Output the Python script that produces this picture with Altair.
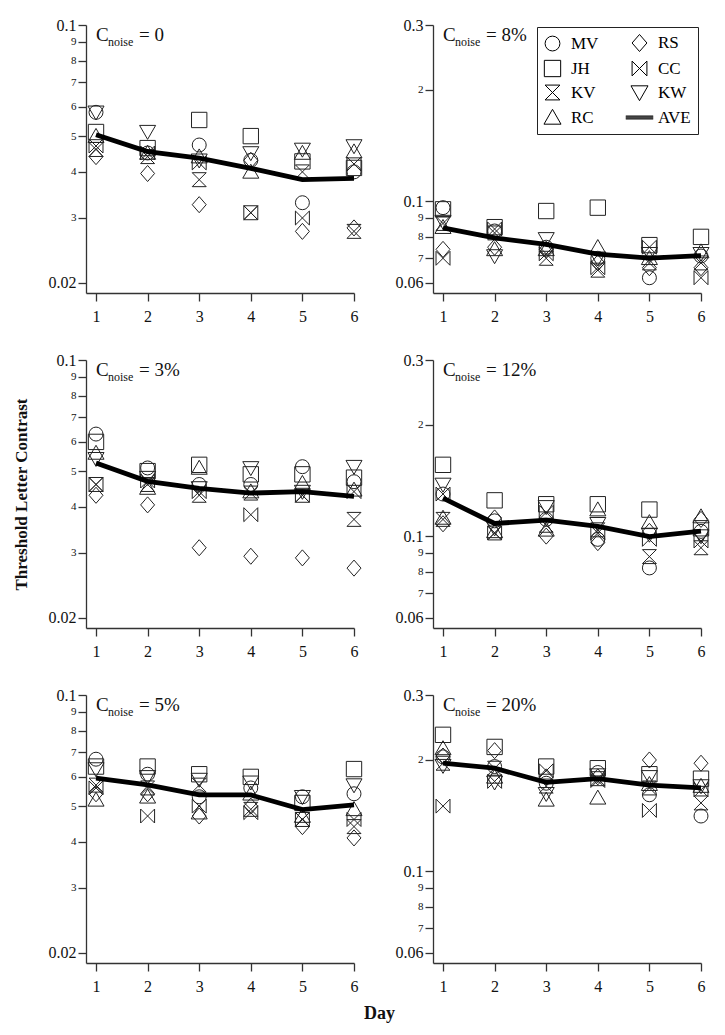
import altair as alt
import pandas as pd

days = [1, 2, 3, 4, 5, 6]
subjects = ["MV", "JH", "KV", "RC", "RS", "CC", "KW"]
legend_order = ["MV", "JH", "KV", "RC", "RS", "CC", "KW", "AVE"]

# ---- data (threshold letter contrast) ----
noise_0 = {
    "MV": [0.058, 0.045, 0.0473, 0.043, 0.033, 0.040],
    "JH": [0.0513, 0.0464, 0.0553, 0.050, 0.0427, 0.041],
    "KV": [0.046, 0.044, 0.0381, 0.031, 0.040, 0.0276],
    "RC": [0.050, 0.045, 0.044, 0.040, 0.045, 0.0454],
    "RS": [0.044, 0.0396, 0.0326, 0.043, 0.0276, 0.0282],
    "CC": [0.047, 0.045, 0.0423, 0.031, 0.030, 0.042],
    "KW": [0.058, 0.0514, 0.043, 0.045, 0.046, 0.047],
}
ave_0 = [0.0504, 0.0454, 0.0436, 0.0409, 0.0381, 0.0384]

noise_8 = {
    "MV": [0.096, 0.083, 0.075, 0.070, 0.062, 0.071],
    "JH": [0.095, 0.085, 0.094, 0.096, 0.076, 0.080],
    "KV": [0.087, 0.082, 0.070, 0.065, 0.068, 0.068],
    "RC": [0.085, 0.074, 0.074, 0.075, 0.070, 0.073],
    "RS": [0.074, 0.075, 0.074, 0.068, 0.066, 0.066],
    "CC": [0.070, 0.084, 0.072, 0.066, 0.075, 0.062],
    "KW": [0.088, 0.071, 0.079, 0.070, 0.072, 0.072],
}
ave_8 = [0.0846, 0.0795, 0.0763, 0.0718, 0.0701, 0.0712]

noise_3 = {
    "MV": [0.063, 0.051, 0.046, 0.046, 0.0514, 0.0468],
    "JH": [0.060, 0.050, 0.052, 0.049, 0.049, 0.048],
    "KV": [0.046, 0.046, 0.043, 0.0436, 0.043, 0.037],
    "RC": [0.056, 0.045, 0.051, 0.044, 0.0464, 0.0445],
    "RS": [0.043, 0.0405, 0.031, 0.0294, 0.0291, 0.0273],
    "CC": [0.046, 0.047, 0.044, 0.0381, 0.043, 0.044],
    "KW": [0.054, 0.048, 0.045, 0.051, 0.044, 0.0514],
}
ave_3 = [0.0526, 0.0469, 0.0449, 0.0436, 0.0440, 0.0427]

noise_12 = {
    "MV": [0.130, 0.110, 0.111, 0.098, 0.082, 0.103],
    "JH": [0.156, 0.125, 0.122, 0.122, 0.118, 0.105],
    "KV": [0.111, 0.102, 0.107, 0.104, 0.088, 0.093],
    "RC": [0.112, 0.103, 0.104, 0.118, 0.109, 0.113],
    "RS": [0.108, 0.112, 0.100, 0.096, 0.103, 0.111],
    "CC": [0.130, 0.102, 0.116, 0.102, 0.098, 0.097],
    "KW": [0.138, 0.105, 0.120, 0.108, 0.101, 0.100],
}
ave_12 = [0.1267, 0.1082, 0.1105, 0.1063, 0.0997, 0.1032]

noise_5 = {
    "MV": [0.067, 0.061, 0.053, 0.056, 0.053, 0.054],
    "JH": [0.064, 0.064, 0.061, 0.060, 0.051, 0.063],
    "KV": [0.057, 0.056, 0.057, 0.049, 0.046, 0.044],
    "RC": [0.052, 0.053, 0.048, 0.054, 0.047, 0.049],
    "RS": [0.054, 0.054, 0.047, 0.050, 0.044, 0.041],
    "CC": [0.056, 0.047, 0.050, 0.048, 0.046, 0.046],
    "KW": [0.063, 0.060, 0.059, 0.058, 0.053, 0.057],
}
ave_5 = [0.0595, 0.0571, 0.0536, 0.0536, 0.0489, 0.0504]

noise_20 = {
    "MV": [0.204, 0.192, 0.173, 0.185, 0.161, 0.141],
    "JH": [0.234, 0.217, 0.192, 0.190, 0.183, 0.178],
    "KV": [0.196, 0.190, 0.170, 0.178, 0.168, 0.153],
    "RC": [0.215, 0.180, 0.156, 0.158, 0.172, 0.170],
    "RS": [0.205, 0.212, 0.180, 0.180, 0.200, 0.196],
    "CC": [0.150, 0.175, 0.187, 0.176, 0.146, 0.166],
    "KW": [0.193, 0.174, 0.162, 0.182, 0.180, 0.170],
}
ave_20 = [0.196, 0.190, 0.174, 0.178, 0.171, 0.168]

left_ticks = [0.02, 0.03, 0.04, 0.05, 0.06, 0.07, 0.08, 0.09, 0.1]
left_labels = ["0.02", "3", "4", "5", "6", "7", "8", "9", "0.1"]
left_major = [0.02, 0.1]
right_ticks = [0.06, 0.07, 0.08, 0.09, 0.1, 0.2, 0.3]
right_labels = ["0.06", "7", "8", "9", "0.1", "2", "0.3"]
right_major = [0.06, 0.1, 0.3]

# ---- styles ----
FONT = "Liberation Serif"
INK = "#222"
shape_paths = {
    "MV": "circle",
    "JH": "M-1.1,-1.1H1.1V1.1H-1.1Z",
    "KV": "M-1,-1H1L-1,1H1Z",
    "RC": "M0,-1.1L1.15,0.9H-1.15Z",
    "RS": "M0,-1.15L1,0L0,1.15L-1,0Z",
    "CC": "M-1,-1V1L1,-1V1Z",
    "KW": "M-1.15,-0.9H1.15L0,1.1Z",
    # thick bar drawn as stacked strokes (legend only)
    "AVE": "M-1.85,-0.2H1.85M-1.85,-0.07H1.85M-1.85,0.07H1.85M-1.85,0.2H1.85",
}

W = 268
H = 268


def make_panel(series, ave, noise_text, right, y_title=None, x_title=None):
    rows = []
    for s in subjects:
        for d, v in zip(days, series[s]):
            rows.append({"day": d, "subject": s, "value": v})
    pts_df = pd.DataFrame(rows)
    ave_df = pd.DataFrame({"day": days, "value": ave})

    ticks = right_ticks if right else left_ticks
    labels = right_labels if right else left_labels
    major = right_major if right else left_major
    dom = [0.05637, 0.3] if right else [0.01879, 0.1]

    yaxis_kw = dict(
        values=ticks,
        labelExpr=f"{labels}[indexof({ticks}, datum.value)]",
        labelFontSize={"condition": {"test": f"indexof({major}, datum.value) >= 0", "value": 16}, "value": 11},
        labelFont=FONT, labelColor="#111", labelPadding=2, labelFlush=False,
        labelOverlap=False, labelBound=False,
        tickSize=8, grid=False, title=None,
    )
    if y_title:
        yaxis_kw.update(title=y_title, titleFont=FONT, titleFontWeight="bold",
                        titleFontSize=17, titleX=-65, titleY=H / 2,
                        titleBaseline="middle", titleAlign="center", titleColor="#111")
    xaxis_kw = dict(
        values=days, format="d", labelFontSize=16, labelFont=FONT, labelColor="#111",
        labelPadding=7, labelFlush=False, labelOverlap=False, tickSize=8, grid=False, title=None,
    )
    if x_title:
        xaxis_kw.update(title=x_title, titleFont=FONT, titleFontWeight="bold",
                        titleFontSize=18, titleX=293, titleY=50,
                        titleBaseline="middle", titleAlign="center", titleColor="#111")

    x = alt.X("day:Q", scale=alt.Scale(domain=[0.806, 6], nice=False, zero=False),
              axis=alt.Axis(**xaxis_kw))
    y = alt.Y("value:Q", scale=alt.Scale(type="log", domain=dom, nice=False),
              axis=alt.Axis(**yaxis_kw))

    leg = alt.Legend(
        orient="none", legendX=451, legendY=2, columns=2, direction="vertical", title=None,
        symbolSize=220, symbolStrokeWidth=1, symbolStrokeColor="black", symbolOpacity=1,
        labelFont=FONT, labelFontSize=17, labelColor="black", labelOffset=10,
        rowPadding=4, columnPadding=24, padding=7, strokeColor=INK, fillColor="white",
    )
    shape = alt.Shape("subject:N", scale=alt.Scale(domain=legend_order,
                      range=[shape_paths[s] for s in legend_order]), legend=leg)

    pts = alt.Chart(pts_df).mark_point(size=195, filled=False, color=INK, strokeWidth=1, opacity=1).encode(
        x=x, y=y, shape=shape)
    line = alt.Chart(ave_df).mark_line(color="black", strokeWidth=4.8).encode(x=x, y=y)

    lab = pd.DataFrame({"c": ["C"], "n": ["noise"], "e": [noise_text]})
    base = alt.Chart(lab)
    t1 = base.mark_text(font=FONT, fontSize=19, align="left", baseline="alphabetic", color="#111").encode(
        text="c:N", x=alt.value(10), y=alt.value(16))
    t2 = base.mark_text(font=FONT, fontSize=12, align="left", baseline="alphabetic", color="#111").encode(
        text="n:N", x=alt.value(22), y=alt.value(21))
    t3 = base.mark_text(font=FONT, fontSize=19, align="left", baseline="alphabetic", color="#111").encode(
        text="e:N", x=alt.value(53), y=alt.value(16))

    return alt.layer(pts, line, t1, t2, t3).properties(width=W, height=H)


pA = make_panel(noise_0, ave_0, "= 0", False)
pB = make_panel(noise_8, ave_8, "= 8%", True)
pC = make_panel(noise_3, ave_3, "= 3%", False, y_title="Threshold Letter Contrast")
pD = make_panel(noise_12, ave_12, "= 12%", True)
pE = make_panel(noise_5, ave_5, "= 5%", False, x_title="Day")
pF = make_panel(noise_20, ave_20, "= 20%", True)

chart = alt.concat(
    pA, pB, pC, pD, pE, pF, columns=2, spacing={"row": 67, "column": 79}, bounds="flush"
).configure_view(
    stroke=None
).configure_axis(
    domainColor="#333", domainWidth=1.3, tickColor="#333", tickWidth=1.3
).properties(padding={"left": 3, "top": 9, "right": 5, "bottom": 5})

chart.save("out.html", embed_options={"renderer": "svg", "actions": False})
